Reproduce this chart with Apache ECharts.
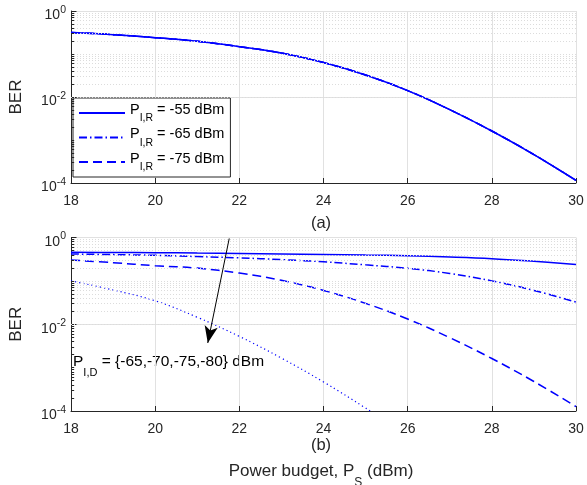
<!DOCTYPE html>
<html>
<head>
<meta charset="utf-8">
<script src="https://cdn.jsdelivr.net/npm/echarts@6/dist/echarts.min.js"></script>
<style>
  html, body { margin: 0; padding: 0; background: #fff; }
  #chart { width: 587px; height: 485px; }
</style>
</head>
<body>
<div id="chart"></div>
<script>
// power budget P_S (dBm), shared by both panels
const powerBudget = [18, 19, 20, 21, 22, 23, 24, 25, 26, 27, 28, 29, 30];

// (a) the three P_I,R curves lie on top of each other
const berA = [0.316, 0.282, 0.240, 0.197, 0.148, 0.105, 0.0631, 0.0324, 0.0141, 0.00508, 0.00162, 0.000458, 0.000115];
const legendNames = ['-55 dBm', '-65 dBm', '-75 dBm'];

// (b) P_I,D = -65, -70, -75, -80 dBm
const berB65 = [0.457, 0.452, 0.447, 0.437, 0.427, 0.417, 0.407, 0.394, 0.380, 0.355, 0.324, 0.282, 0.240];
const berB70 = [0.417, 0.403, 0.389, 0.363, 0.339, 0.309, 0.275, 0.234, 0.195, 0.148, 0.100, 0.0603, 0.0324];
const berB75 = [0.302, 0.263, 0.224, 0.197, 0.151, 0.103, 0.0603, 0.0303, 0.0132, 0.0049, 0.00162, 0.000479, 0.000126];
const berB80 = [0.100, 0.0617, 0.0347, 0.0145, 0.00525, 0.00166, 0.000468, 0.000117, 0.000028, null, null, null, null];

// arrow annotation in (b), data coords (tail, tip)
const arrowFrom = [21.76, 0.95];
const arrowTo = [21.25, 0.0037];

const xMin = 18, xMax = 30, xStep = 2;
const yMin = 1e-4, yMax = 1;

// minor y ticks: 2..9 per decade plus the odd decades
const yMinor = [];
[-1, -2, -3, -4].forEach((d) => {
  for (let k = 2; k <= 9; k++) yMinor.push(+(k * Math.pow(10, d)).toPrecision(3));
});
yMinor.push(0.1, 0.001);

const FONT = '"Liberation Sans", Arial, Helvetica, sans-serif';
const INK = '#262626';
const BLUE = '#0000ff';
const GRID_C = '#e1e1e1';
const MINOR_C = '#dcdcdc';

const pairs = (ys) => powerBudget.map((x, i) => [x, ys[i]]).filter((p) => p[1] != null);

const measure = (txt, font) => {
  const ctx = document.createElement('canvas').getContext('2d');
  ctx.font = font;
  return ctx.measureText(txt).width;
};

const grids = [
  { left: 66, top: 11, width: 510, height: 172 },
  { left: 66, top: 237.5, width: 510, height: 173.5 }
];

const xAxis = grids.map((g, i) => ({
  type: 'value', gridIndex: i, min: xMin, max: xMax, interval: xStep,
  axisLine: { show: true, onZero: false, lineStyle: { color: INK, width: 1 } },
  axisTick: { show: true, inside: true, length: 5, lineStyle: { color: INK } },
  axisLabel: { color: INK, fontSize: 14, fontFamily: FONT, margin: 11 },
  splitLine: { show: true, lineStyle: { color: GRID_C, width: 1 } }
}));

const yAxis = grids.map((g, i) => ({
  type: 'log', logBase: 10, gridIndex: i, min: yMin, max: yMax, interval: 2,
  name: 'BER', nameLocation: 'middle', nameGap: 46, nameRotate: 90,
  nameTextStyle: { color: INK, fontSize: 17, fontFamily: FONT },
  axisLine: { show: true, onZero: false, lineStyle: { color: INK, width: 1 } },
  axisTick: { show: true, inside: true, length: 5.5, lineStyle: { color: INK } },
  axisLabel: {
    color: INK, fontFamily: FONT, margin: 5,
    formatter: (v) => '{b|10}{e|' + Math.round(Math.log10(v)) + '}',
    rich: {
      b: { fontSize: 14, lineHeight: 23, verticalAlign: 'bottom', color: INK, fontFamily: FONT },
      e: { fontSize: 10.5, verticalAlign: 'top', padding: [5, 0, 0, 0], color: INK, fontFamily: FONT }
    }
  },
  splitLine: { show: true, lineStyle: { color: GRID_C, width: 1 } }
}));

const lineSeries = (name, data, idx, type, width) => ({
  name, type: 'line', xAxisIndex: idx, yAxisIndex: idx, data: pairs(data),
  symbol: 'none', smooth: 0.4, clip: true, z: 3,
  lineStyle: { color: BLUE, width: width || 1.5, type }, itemStyle: { color: BLUE }
});

const DASHDOT = [8, 3, 1.5, 3];
const DASHED = [9, 5];
const DOTTED = [1.2, 3];

const series = [];
grids.forEach((g, i) => {
  series.push({
    type: 'line', xAxisIndex: i, yAxisIndex: i, data: [], silent: true, z: 1,
    markLine: {
      silent: true, symbol: 'none', animation: false, label: { show: false },
      lineStyle: { color: MINOR_C, width: 1, type: [1, 2] },
      data: yMinor.map((v) => ({ yAxis: v }))
    }
  });
  series.push({
    type: 'line', xAxisIndex: i, yAxisIndex: i, data: [], silent: true, z: 4,
    markLine: {
      silent: true, symbol: 'none', animation: false, label: { show: false },
      lineStyle: { color: INK, width: 1, type: 'solid' },
      data: yMinor.map((v) => [{ coord: [xMin, v] }, { coord: [xMin + 0.075, v] }])
    }
  });
});

series.push(lineSeries(legendNames[0], berA, 0, 'solid'));
series.push(lineSeries(legendNames[1], berA, 0, DASHDOT));
series.push(lineSeries(legendNames[2], berA, 0, DASHED));

series.push(lineSeries('b65', berB65, 1, 'solid'));
series.push(lineSeries('b70', berB70, 1, DASHDOT));
series.push(lineSeries('b75', berB75, 1, DASHED));
const dotted = lineSeries('b80', berB80, 1, DOTTED, 1.2);
dotted.markLine = {
  silent: true, animation: false, symbol: ['none', 'arrow'], symbolSize: [10, 17],
  label: { show: false },
  lineStyle: { color: '#000', width: 1, type: 'solid' },
  data: [[{ coord: arrowFrom }, { coord: arrowTo }]]
};
series.push(dotted);

const subText = (main, sub, rest) => '{p|' + main + '}{s|' + sub + '}{p|' + rest + '}';

// annotation: "P" + subscript "I,D", then the plain part (braces can't live in rich text)
const annoX = 73, annoTop = 354;
const annoLead = measure('P', '15.5px ' + FONT) + measure('I,D', '11px ' + FONT);

const option = {
  animation: false,
  backgroundColor: '#fff',
  grid: grids.map((g) => Object.assign({ containLabel: false, show: false }, g)),
  xAxis, yAxis, series,
  legend: {
    data: legendNames, orient: 'vertical', left: 73, top: 98,
    padding: [4, 6, 4, 5], itemGap: 2.5, itemWidth: 46, itemHeight: 14,
    backgroundColor: '#fff', borderColor: INK, borderWidth: 1, borderRadius: 0,
    selectedMode: false,
    itemStyle: { opacity: 0 },
    formatter: (n) => subText('P', 'I,R', ' = ' + n),
    textStyle: {
      color: '#000', fontFamily: FONT,
      rich: {
        p: { fontSize: 14.5, lineHeight: 22, verticalAlign: 'top', color: '#000', fontFamily: FONT },
        s: { fontSize: 10.5, lineHeight: 22, verticalAlign: 'bottom', color: '#000', fontFamily: FONT }
      }
    }
  },
  graphic: [
    {
      type: 'text', x: 321, y: 215, silent: true,
      style: { text: '(a)', fill: INK, font: '16.5px ' + FONT, align: 'center' }
    },
    {
      type: 'text', x: 321, y: 437, silent: true,
      style: { text: '(b)', fill: INK, font: '16.5px ' + FONT, align: 'center' }
    },
    {
      type: 'text', x: 321, y: 463, silent: true,
      style: {
        text: subText('Power budget, P', 'S', ' (dBm)'), align: 'center', fill: INK,
        rich: {
          p: { fontSize: 17, lineHeight: 26, verticalAlign: 'top', fill: INK, fontFamily: FONT },
          s: { fontSize: 12, lineHeight: 26, verticalAlign: 'bottom', fill: INK, fontFamily: FONT }
        }
      }
    },
    {
      type: 'text', x: annoX, y: annoTop, silent: true,
      style: {
        text: '{p|P}{s|I,D}', fill: '#000',
        rich: {
          p: { fontSize: 15.5, lineHeight: 24, verticalAlign: 'top', fill: '#000', fontFamily: FONT },
          s: { fontSize: 11, lineHeight: 24, verticalAlign: 'bottom', fill: '#000', fontFamily: FONT }
        }
      }
    },
    {
      type: 'text', x: annoX + annoLead, y: annoTop + 7.75, silent: true,
      style: {
        text: ' = {-65,-70,-75,-80} dBm', fill: '#000', font: '15.5px ' + FONT,
        verticalAlign: 'middle'
      }
    }
  ]
};

const chart = echarts.init(document.getElementById('chart'), null, { renderer: 'canvas' });
chart.setOption(option);
</script>
</body>
</html>
